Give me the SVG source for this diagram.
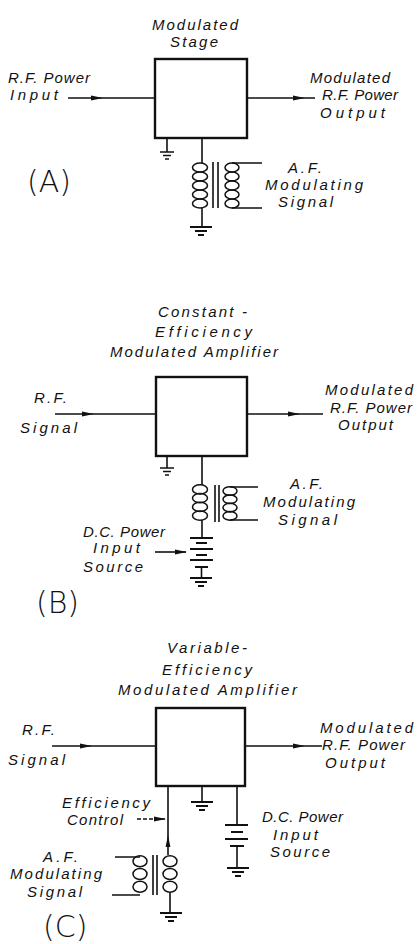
<svg xmlns="http://www.w3.org/2000/svg" width="417" height="944" viewBox="0 0 417 944">
<style>
.t{font-family:"Liberation Sans",Arial,sans-serif;font-style:italic;font-size:15px;fill:#111}
.lab{font-family:"DejaVu Sans","Liberation Sans",sans-serif;font-weight:200;font-size:30px;fill:#111}
.box{fill:#fff;stroke:#111;stroke-width:2.4}
.w{fill:none;stroke:#111;stroke-width:1.6}
.thin{fill:none;stroke:#111;stroke-width:1.3}
.c{fill:none;stroke:#111;stroke-width:1.5}
.pl{stroke:#111;stroke-width:2}
</style>
<defs>
<marker id="arr" viewBox="0 0 12 6" refX="11" refY="3" markerWidth="12" markerHeight="6" markerUnits="userSpaceOnUse" orient="auto">
<path d="M0,0.6 L12,3 L0,5.4 Z" fill="#111"/>
</marker>
<g id="gnd"><path d="M-11,0 H11 M-6,4 H6 M-3,8 H3" class="pl"/></g>
<g id="gnds"><path d="M-7,0 H7 M-4,3.5 H4 M-2,7 H2" class="thin"/></g>
</defs>

<!-- ===== (A) ===== -->
<g id="A-stage">
<rect class="box" x="155" y="59" width="92" height="79"/>
<text class="t" x="152" y="30" textLength="86">Modulated</text>
<text class="t" x="170" y="47" textLength="48">Stage</text>
</g>
<g id="A-input"><text class="t" x="8" y="83" textLength="82">R.F. Power</text><text class="t" x="10" y="100" textLength="48">Input</text></g>
<g id="A-output"><text class="t" x="310" y="83" textLength="80">Modulated</text><text class="t" x="322" y="100" textLength="76">R.F. Power</text><text class="t" x="320" y="118" textLength="65">Output</text></g>
<g id="A-label"><text class="lab" x="27" y="192">(A)</text></g>
<g id="A-ground1"><use href="#gnds" x="167" y="152"/></g>
<g id="A-transformer">
<g class="c">
<ellipse cx="200" cy="167.5" rx="7.5" ry="4.5"/><ellipse cx="200" cy="176.5" rx="7.5" ry="4.5"/><ellipse cx="200" cy="185.5" rx="7.5" ry="4.5"/><ellipse cx="200" cy="194.5" rx="7.5" ry="4.5"/><ellipse cx="200" cy="203.5" rx="7.5" ry="4.5"/>
<ellipse cx="232" cy="167.5" rx="7" ry="4.5"/><ellipse cx="232" cy="176.5" rx="7" ry="4.5"/><ellipse cx="232" cy="185.5" rx="7" ry="4.5"/><ellipse cx="232" cy="194.5" rx="7" ry="4.5"/><ellipse cx="232" cy="203.5" rx="7" ry="4.5"/>
</g>
<path class="w" d="M213,162 V208 M218,162 V208"/>
</g>
<g id="A-af"><text class="t" x="288" y="173" textLength="34">A.F.</text><text class="t" x="265" y="190" textLength="98">Modulating</text><text class="t" x="278" y="207" textLength="55">Signal</text></g>
<g id="A-ground2"><use href="#gnd" x="201" y="227"/></g>

<!-- ===== (B) ===== -->
<g id="B-amp">
<rect class="box" x="156" y="377" width="91" height="79"/>
<text class="t" x="158" y="317" textLength="89">Constant -</text>
<text class="t" x="155" y="337" textLength="97">Efficiency</text>
<text class="t" x="110" y="357" textLength="168">Modulated Amplifier</text>
</g>
<g id="B-input"><text class="t" x="34" y="403" textLength="33">R.F.</text><text class="t" x="20" y="433" textLength="57">Signal</text></g>
<g id="B-output"><text class="t" x="325" y="395" textLength="88">Modulated</text><text class="t" x="330" y="413" textLength="82">R.F. Power</text><text class="t" x="338" y="430" textLength="55">Output</text></g>
<g id="B-ground1"><use href="#gnds" x="167" y="468"/></g>
<g id="B-transformer">
<g class="c">
<ellipse cx="200" cy="489.4" rx="7.5" ry="4.6"/><ellipse cx="200" cy="498.1" rx="7.5" ry="4.6"/><ellipse cx="200" cy="506.9" rx="7.5" ry="4.6"/><ellipse cx="200" cy="515.6" rx="7.5" ry="4.6"/>
<ellipse cx="230" cy="491" rx="7" ry="4.3"/><ellipse cx="230" cy="499.3" rx="7" ry="4.3"/><ellipse cx="230" cy="507.6" rx="7" ry="4.3"/><ellipse cx="230" cy="515.9" rx="7" ry="4.3"/>
</g>
<path class="w" d="M215,485 V522 M219,485 V522"/>
</g>
<g id="B-af"><text class="t" x="290" y="489" textLength="33">A.F.</text><text class="t" x="263" y="507" textLength="92">Modulating</text><text class="t" x="278" y="525" textLength="59">Signal</text></g>
<g id="B-battery">
<path class="pl" d="M190,538 H213 M196,543 H207 M190,549 H213 M196,555 H207 M190,560 H213 M195,567 H208"/>
</g>
<g id="B-dc"><text class="t" x="83" y="537" textLength="82">D.C. Power</text><text class="t" x="93" y="553" textLength="47">Input</text><text class="t" x="83" y="572" textLength="60">Source</text></g>
<g id="B-ground2"><use href="#gnd" x="201" y="578"/></g>
<g id="B-label"><text class="lab" x="36" y="613">(B)</text></g>

<!-- ===== (C) ===== -->
<g id="C-amp">
<rect class="box" x="156" y="708" width="89" height="78"/>
<text class="t" x="167" y="653" textLength="80">Variable-</text>
<text class="t" x="162" y="675" textLength="90">Efficiency</text>
<text class="t" x="118" y="695" textLength="179">Modulated Amplifier</text>
</g>
<g id="C-input"><text class="t" x="22" y="735" textLength="33">R.F.</text><text class="t" x="8" y="765" textLength="57">Signal</text></g>
<g id="C-output"><text class="t" x="320" y="733" textLength="93">Modulated</text><text class="t" x="322" y="750" textLength="83">R.F. Power</text><text class="t" x="325" y="768" textLength="60">Output</text></g>
<g id="C-effctl"><text class="t" x="62" y="808" textLength="88">Efficiency</text><text class="t" x="67" y="825" textLength="56">Control</text></g>
<g id="C-ground1"><use href="#gnd" x="202" y="802"/></g>
<g id="C-battery">
<path class="pl" d="M225,825 H248 M231,832 H243 M225,839 H248 M230,846 H244"/>
</g>
<g id="C-dc"><text class="t" x="262" y="822" textLength="81">D.C. Power</text><text class="t" x="273" y="840" textLength="45">Input</text><text class="t" x="270" y="857" textLength="60">Source</text></g>
<g id="C-ground2"><use href="#gnd" x="238" y="868"/></g>
<g id="C-transformer">
<g class="c">
<ellipse cx="170" cy="861.3" rx="7" ry="5.5"/><ellipse cx="170" cy="874" rx="7" ry="5.5"/><ellipse cx="170" cy="886.7" rx="7" ry="5.5"/>
<ellipse cx="140" cy="861.3" rx="7" ry="5.5"/><ellipse cx="140" cy="874" rx="7" ry="5.5"/><ellipse cx="140" cy="886.7" rx="7" ry="5.5"/>
</g>
<path class="w" d="M153,855 V895 M157,855 V895"/>
</g>
<g id="C-af"><text class="t" x="43" y="862" textLength="35">A.F.</text><text class="t" x="10" y="879" textLength="92">Modulating</text><text class="t" x="27" y="897" textLength="55">Signal</text></g>
<g id="C-ground3"><use href="#gnd" x="171" y="913"/></g>
<g id="C-label"><text class="lab" x="43" y="937" font-size="27">(C)</text></g>

<!-- ===== connectors ===== -->
<g id="connectors" class="w">
<path d="M68,98 L102,98 L155,98" marker-mid="url(#arr)"/>
<path d="M247,98 L304,98 L315,98" marker-mid="url(#arr)"/>
<path d="M167,138 V152"/>
<path d="M202,138 V163"/>
<path d="M202,208 V227"/>
<path d="M232,163 H262 M232,208 H262"/>

<path d="M55,414 L93,414 L156,414" marker-mid="url(#arr)"/>
<path d="M247,414 L299,414 L323,414" marker-mid="url(#arr)"/>
<path d="M167,456 V468"/>
<path d="M202,456 V485"/>
<path d="M202,520 V538"/>
<path d="M230,487 H258 M230,520 H258"/>
<path d="M201.5,567 V578"/>
<path d="M155,552 H186" marker-end="url(#arr)"/>

<path d="M52,746 L91,746 L156,746" marker-mid="url(#arr)"/>
<path d="M245,746 L304,746 L322,746" marker-mid="url(#arr)"/>
<path d="M168,855 L168,836 L168,786" marker-mid="url(#arr)"/>
<path d="M202,786 V802"/>
<path d="M237,786 V825"/>
<path d="M237,846 V868"/>
<path d="M137,819 H165" stroke-dasharray="4 2" marker-end="url(#arr)"/>
<path d="M140,857 H115 M140,895 H112"/>
<path d="M170,893 V913"/>
</g>
</svg>
